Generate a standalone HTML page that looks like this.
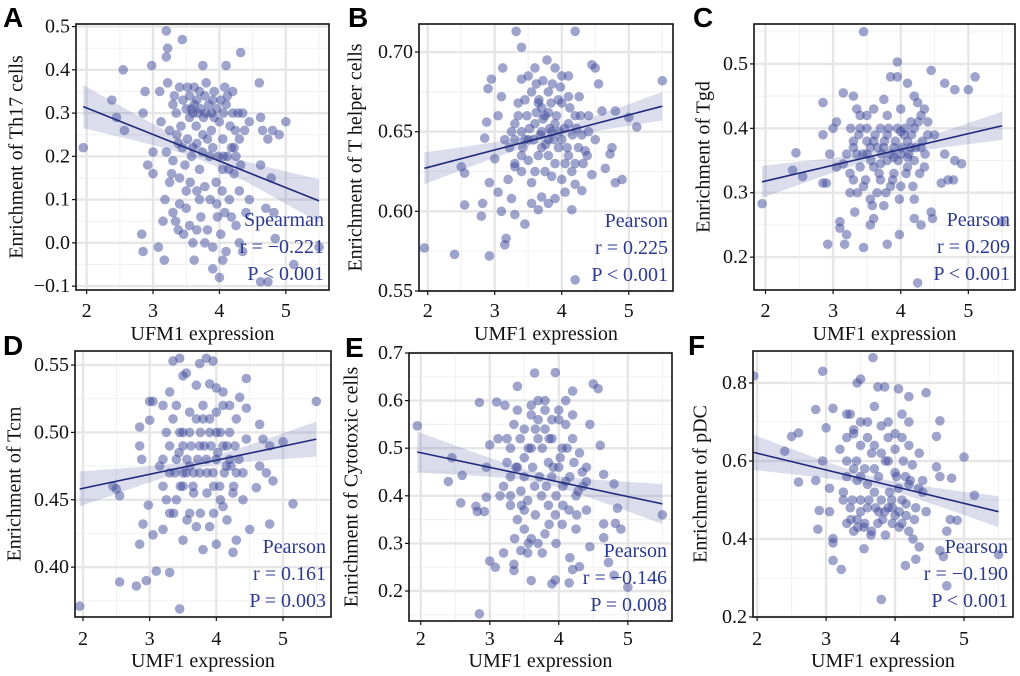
<!DOCTYPE html>
<html><head><meta charset="utf-8"><style>
body{margin:0;background:#fff}
svg{display:block}
text{font-family:"Liberation Serif",serif}
</style></head><body>
<svg id="fig" width="1020" height="676" xmlns="http://www.w3.org/2000/svg"></svg>
<script>
// ---- data arrays ----
const seriesA = [[1.95,0.22],[2.38,0.33],[2.45,0.29],[2.55,0.40],[2.57,0.26],[2.83,0.02],[2.85,-0.02],[2.85,0.30],[2.88,0.35],[2.92,0.18],[2.98,0.41],[3.0,0.16],[3.0,0.21],[3.08,-0.01],[3.1,0.35],[3.17,-0.04],[3.2,0.49],[3.22,0.45],[3.2,0.43],[3.22,0.37],[3.44,0.47],[4.32,0.44],[4.1,0.41],[3.75,0.41],[4.6,0.37],[4.62,0.29],[4.65,0.26],[4.62,0.18],[4.73,0.24],[4.8,0.26],[4.9,0.25],[5.0,0.28],[4.78,0.15],[4.7,0.08],[4.82,0.07],[4.84,0.01],[5.12,-0.05],[5.5,-0.01],[4.62,-0.09],[4.73,-0.09],[3.9,-0.06],[4.0,-0.08],[4.05,-0.04],[3.62,-0.04],[3.38,0.03],[3.15,0.05],[3.18,0.1],[3.25,0.14],[3.3,0.07],[3.4,0.09],[3.5,0.12],[3.55,0.04],[3.6,0.0],[3.72,0.06],[3.82,0.03],[3.9,-0.01],[4.02,0.02],[4.08,0.07],[4.15,0.1],[4.25,0.04],[4.35,-0.02],[4.4,0.07],[4.45,0.1],[4.3,0.12],[4.22,0.16],[4.12,0.2],[4.05,0.24],[3.95,0.14],[3.85,0.2],[3.7,0.17],[3.6,0.22],[3.48,0.18],[3.38,0.23],[3.3,0.19],[3.25,0.26],[3.35,0.3],[3.45,0.33],[3.55,0.29],[3.62,0.32],[3.7,0.35],[3.8,0.3],[3.9,0.33],[4.0,0.28],[4.1,0.32],[4.2,0.35],[4.28,0.3],[4.38,0.26],[4.45,0.28],[3.52,0.36],[3.65,0.27],[3.75,0.25],[3.88,0.26],[4.18,0.22],[4.25,0.2],[3.42,0.27],[3.58,0.31],[3.68,0.30],[3.78,0.34],[3.92,0.29],[3.32,0.34],[4.08,0.36],[4.05,0.17],[3.97,0.06],[3.7,0.1],[3.5,0.08],[3.2,0.21],[3.12,0.28]];
const coreA = [[3.3,0.32],[3.4,0.36],[3.5,0.31],[3.55,0.34],[3.6,0.30],[3.62,0.36],[3.66,0.33],[3.72,0.31],[3.76,0.29],[3.8,0.37],[3.84,0.32],[3.88,0.30],[3.92,0.35],[3.96,0.31],[4.02,0.33],[4.06,0.3],[4.12,0.34],[4.16,0.27],[4.2,0.3],[4.24,0.26],[4.3,0.24],[4.35,0.3],[3.36,0.25],[3.44,0.22],[3.52,0.24],[3.58,0.2],[3.66,0.23],[3.74,0.21],[3.82,0.24],[3.9,0.22],[3.98,0.2],[4.06,0.2],[4.14,0.17],[4.22,0.22],[4.32,0.18],[3.28,0.16],[3.4,0.15],[3.56,0.14],[3.66,0.12],[3.78,0.13],[3.86,0.1],[3.96,0.09],[4.04,0.12],[4.18,0.06],[3.34,0.05],[3.46,0.02],[3.66,0.03],[3.78,0.0],[4.1,-0.02],[4.3,0.0]];
const seriesB = [[1.95,0.577],[2.4,0.573],[2.5,0.628],[2.55,0.624],[2.55,0.604],[2.8,0.597],[2.82,0.605],[2.85,0.646],[2.88,0.656],[2.9,0.677],[2.92,0.572],[2.95,0.683],[2.92,0.618],[3.0,0.633],[3.05,0.612],[3.1,0.600],[3.12,0.690],[3.15,0.579],[3.17,0.583],[3.1,0.672],[3.25,0.608],[3.3,0.598],[3.32,0.713],[3.4,0.703],[3.45,0.592],[3.4,0.683],[3.55,0.605],[3.65,0.601],[3.7,0.609],[3.8,0.605],[3.9,0.608],[4.2,0.713],[4.15,0.601],[4.2,0.557],[4.45,0.692],[4.5,0.690],[4.55,0.680],[4.6,0.663],[4.65,0.627],[4.72,0.636],[4.75,0.640],[4.8,0.663],[4.8,0.618],[4.9,0.620],[5.0,0.659],[5.12,0.653],[5.5,0.682],[4.3,0.613],[4.2,0.617],[4.45,0.623],[3.2,0.620],[3.3,0.628],[3.4,0.635],[3.5,0.645],[3.6,0.655],[3.7,0.665],[3.8,0.675],[3.9,0.69],[4.0,0.685],[4.1,0.672],[4.2,0.66],[4.3,0.648],[4.35,0.638],[3.25,0.65],[3.35,0.66],[3.45,0.67],[3.55,0.675],[3.65,0.668],[3.75,0.66],[3.85,0.65],[3.95,0.64],[4.05,0.63],[4.15,0.625],[3.3,0.645],[3.4,0.65],[3.5,0.632],[3.6,0.625],[3.7,0.64],[3.8,0.635],[3.9,0.655],[4.0,0.645],[4.1,0.655],[4.25,0.64],[4.4,0.65],[3.62,0.68],[3.78,0.695],[3.85,0.622],[4.05,0.612],[3.95,0.67],[4.5,0.645],[3.15,0.645],[3.05,0.66],[3.7,0.65],[3.8,0.645]];
const coreB = [[3.3,0.655],[3.35,0.668],[3.42,0.64],[3.48,0.66],[3.52,0.652],[3.58,0.645],[3.62,0.662],[3.66,0.67],[3.68,0.648],[3.72,0.658],[3.76,0.642],[3.8,0.662],[3.84,0.668],[3.88,0.645],[3.92,0.66],[3.96,0.65],[4.0,0.668],[4.04,0.652],[4.08,0.64],[4.12,0.665],[4.16,0.648],[4.22,0.652],[4.28,0.66],[4.32,0.63],[3.4,0.625],[3.55,0.618],[3.65,0.635],[3.75,0.625],[3.9,0.63],[4.0,0.62],[4.1,0.635],[4.2,0.63],[3.5,0.685],[3.6,0.69],[3.72,0.682],[3.86,0.68],[3.98,0.678],[4.1,0.685],[3.3,0.63],[3.22,0.64],[4.4,0.66],[4.38,0.635],[3.45,0.645],[3.82,0.652],[4.26,0.672]];
const seriesC = [[1.95,0.283],[2.4,0.335],[2.45,0.362],[2.55,0.325],[2.85,0.315],[2.85,0.39],[2.85,0.44],[2.9,0.315],[2.92,0.22],[2.95,0.36],[3.0,0.40],[3.05,0.41],[3.05,0.34],[3.1,0.245],[3.1,0.255],[3.15,0.455],[3.17,0.22],[3.2,0.235],[3.25,0.30],[3.3,0.45],[3.32,0.27],[3.35,0.43],[3.45,0.55],[3.45,0.215],[3.55,0.25],[3.6,0.26],[3.75,0.445],[3.8,0.22],[3.85,0.48],[3.95,0.503],[3.95,0.48],[3.98,0.235],[4.1,0.47],[4.2,0.29],[4.2,0.26],[4.25,0.16],[4.3,0.25],[4.45,0.27],[4.47,0.26],[4.45,0.49],[4.65,0.47],[4.65,0.36],[4.8,0.46],[4.8,0.35],[4.9,0.345],[5.0,0.46],[5.1,0.48],[5.5,0.255],[4.7,0.32],[4.6,0.315],[4.78,0.32],[3.3,0.32],[3.4,0.34],[3.5,0.36],[3.6,0.38],[3.7,0.40],[3.8,0.39],[3.9,0.37],[4.0,0.36],[4.1,0.38],[4.2,0.40],[4.3,0.42],[4.35,0.43],[3.3,0.38],[3.4,0.40],[3.5,0.42],[3.6,0.34],[3.7,0.32],[3.8,0.35],[3.9,0.33],[4.0,0.31],[4.1,0.34],[4.2,0.35],[4.3,0.37],[4.4,0.39],[3.2,0.36],[3.25,0.33],[3.45,0.31],[3.55,0.29],[3.65,0.30],[3.75,0.28],[3.85,0.31],[4.05,0.39],[4.15,0.41],[4.25,0.44],[3.35,0.36],[3.55,0.37],[3.75,0.37],[3.95,0.40],[4.15,0.37],[4.35,0.34],[3.15,0.345],[4.5,0.39]];
const coreC = [[3.3,0.37],[3.38,0.39],[3.44,0.36],[3.5,0.38],[3.56,0.35],[3.62,0.39],[3.66,0.37],[3.72,0.36],[3.76,0.38],[3.82,0.4],[3.86,0.36],[3.92,0.38],[3.96,0.35],[4.02,0.37],[4.06,0.4],[4.12,0.36],[4.16,0.39],[4.22,0.37],[4.26,0.41],[4.32,0.38],[3.4,0.42],[3.6,0.43],[3.8,0.42],[4.0,0.43],[4.2,0.45],[3.48,0.32],[3.68,0.33],[3.88,0.32],[4.08,0.33],[4.28,0.33],[3.36,0.3],[3.58,0.28],[3.78,0.3],[3.98,0.29],[4.18,0.31],[3.26,0.4],[4.4,0.41],[4.36,0.36],[3.7,0.345],[3.9,0.355],[4.1,0.355],[3.5,0.4],[4.0,0.395]];
const seriesD = [[1.95,0.371],[2.45,0.46],[2.5,0.458],[2.55,0.453],[2.55,0.389],[2.8,0.386],[2.85,0.417],[2.85,0.49],[2.85,0.504],[2.88,0.48],[2.9,0.432],[2.95,0.39],[2.98,0.446],[3.0,0.523],[3.0,0.509],[3.05,0.523],[3.1,0.397],[3.05,0.424],[3.2,0.428],[3.2,0.48],[3.3,0.396],[3.35,0.553],[3.45,0.555],[3.5,0.542],[3.55,0.544],[3.45,0.369],[3.5,0.42],[3.75,0.551],[3.85,0.555],[3.95,0.553],[3.9,0.536],[4.0,0.533],[4.45,0.54],[4.35,0.526],[4.45,0.518],[4.65,0.506],[4.65,0.475],[4.7,0.495],[4.75,0.47],[4.8,0.49],[4.85,0.464],[4.8,0.432],[5.0,0.493],[5.15,0.447],[5.5,0.523],[4.6,0.459],[4.5,0.428],[4.25,0.411],[4.3,0.42],[4.0,0.417],[3.8,0.413],[3.2,0.46],[3.3,0.47],[3.4,0.48],[3.5,0.49],[3.6,0.50],[3.7,0.51],[3.8,0.52],[3.9,0.51],[4.0,0.50],[4.1,0.49],[4.2,0.48],[4.3,0.47],[3.25,0.50],[3.35,0.51],[3.45,0.50],[3.55,0.47],[3.65,0.46],[3.75,0.47],[3.85,0.48],[3.95,0.47],[4.05,0.46],[4.15,0.475],[4.25,0.455],[4.4,0.45],[3.3,0.44],[3.4,0.45],[3.5,0.46],[3.6,0.44],[3.7,0.43],[3.9,0.43],[4.1,0.445],[4.2,0.50],[4.3,0.51],[3.6,0.475],[3.75,0.49],[4.0,0.48],[3.15,0.475],[3.2,0.52],[4.1,0.52],[4.45,0.495]];
const coreD = [[3.3,0.49],[3.38,0.47],[3.44,0.485],[3.5,0.5],[3.56,0.48],[3.62,0.49],[3.66,0.47],[3.72,0.48],[3.76,0.5],[3.82,0.49],[3.86,0.47],[3.92,0.49],[3.96,0.46],[4.02,0.485],[4.06,0.5],[4.12,0.47],[4.16,0.49],[4.22,0.475],[4.28,0.49],[4.34,0.48],[3.4,0.52],[3.6,0.515],[3.8,0.51],[4.0,0.515],[4.2,0.52],[3.46,0.46],[3.66,0.455],[3.86,0.455],[4.06,0.45],[4.26,0.46],[3.36,0.44],[3.56,0.435],[3.76,0.44],[3.96,0.44],[4.16,0.435],[3.3,0.53],[3.7,0.535],[4.1,0.53],[3.5,0.47],[3.9,0.5],[4.4,0.47],[3.25,0.45]];
const seriesE = [[1.95,0.547],[2.45,0.48],[2.4,0.43],[2.6,0.443],[2.58,0.385],[2.8,0.378],[2.82,0.367],[2.85,0.596],[2.85,0.152],[2.92,0.367],[2.95,0.46],[2.95,0.397],[3.0,0.507],[3.0,0.263],[3.08,0.25],[3.1,0.597],[3.12,0.52],[3.2,0.28],[3.22,0.59],[3.35,0.256],[3.35,0.243],[3.4,0.63],[3.45,0.285],[3.6,0.222],[3.65,0.658],[3.95,0.659],[3.9,0.215],[3.95,0.223],[4.15,0.217],[4.2,0.62],[4.5,0.635],[4.57,0.625],[4.45,0.55],[4.6,0.506],[4.65,0.445],[4.65,0.341],[4.65,0.312],[4.8,0.425],[4.82,0.342],[4.85,0.374],[4.9,0.33],[4.72,0.26],[4.8,0.233],[5.0,0.208],[5.5,0.36],[4.45,0.293],[4.3,0.251],[4.2,0.245],[3.2,0.42],[3.3,0.44],[3.4,0.46],[3.5,0.48],[3.6,0.50],[3.7,0.52],[3.8,0.54],[3.9,0.56],[4.0,0.58],[4.1,0.55],[4.2,0.52],[4.3,0.49],[4.4,0.46],[3.25,0.52],[3.35,0.55],[3.5,0.54],[3.6,0.57],[3.7,0.60],[3.8,0.58],[3.65,0.42],[3.75,0.40],[3.85,0.38],[3.95,0.36],[4.05,0.34],[4.15,0.37],[4.25,0.40],[4.35,0.42],[3.3,0.38],[3.4,0.35],[3.5,0.33],[3.6,0.31],[3.7,0.30],[3.8,0.32],[3.9,0.44],[4.0,0.46],[4.1,0.43],[3.45,0.41],[3.55,0.39],[3.55,0.28],[3.85,0.47],[4.05,0.50],[4.25,0.33],[3.15,0.40],[4.4,0.37]];
const coreE = [[3.3,0.5],[3.38,0.46],[3.44,0.52],[3.5,0.44],[3.56,0.5],[3.62,0.46],[3.66,0.54],[3.72,0.44],[3.76,0.5],[3.82,0.42],[3.86,0.52],[3.92,0.46],[3.96,0.4],[4.02,0.48],[4.06,0.42],[4.12,0.5],[4.16,0.44],[4.22,0.47],[4.28,0.41],[4.34,0.45],[3.4,0.58],[3.6,0.59],[3.8,0.6],[4.0,0.56],[4.2,0.57],[3.46,0.38],[3.66,0.36],[3.86,0.34],[4.06,0.38],[4.26,0.36],[3.36,0.31],[3.56,0.3],[3.76,0.28],[3.96,0.3],[4.16,0.27],[3.3,0.4],[3.7,0.56],[4.1,0.6],[3.5,0.37],[3.9,0.52],[4.4,0.43],[3.25,0.47]];
const seriesF = [[1.95,0.818],[2.4,0.625],[2.5,0.663],[2.6,0.672],[2.6,0.546],[2.85,0.55],[2.85,0.732],[2.88,0.425],[2.9,0.473],[2.95,0.83],[2.95,0.6],[3.0,0.685],[3.05,0.53],[3.05,0.47],[3.1,0.401],[3.1,0.39],[3.1,0.345],[3.1,0.735],[3.22,0.322],[3.35,0.72],[3.45,0.8],[3.5,0.81],[3.55,0.375],[3.68,0.865],[3.75,0.79],[3.8,0.245],[3.85,0.79],[4.05,0.785],[4.2,0.765],[4.45,0.775],[4.65,0.703],[4.6,0.663],[4.6,0.585],[4.65,0.56],[4.82,0.556],[5.0,0.61],[5.15,0.512],[5.5,0.36],[4.65,0.37],[4.7,0.355],[4.75,0.42],[4.75,0.28],[4.8,0.45],[4.9,0.448],[4.15,0.332],[4.3,0.348],[4.35,0.38],[3.2,0.63],[3.3,0.60],[3.4,0.58],[3.5,0.56],[3.6,0.54],[3.7,0.52],[3.8,0.50],[3.9,0.48],[4.0,0.46],[4.1,0.44],[4.2,0.42],[3.25,0.52],[3.35,0.48],[3.45,0.45],[3.55,0.43],[3.65,0.41],[3.75,0.44],[3.85,0.47],[3.95,0.50],[4.05,0.53],[4.15,0.56],[4.25,0.59],[4.35,0.62],[3.3,0.66],[3.4,0.68],[3.5,0.70],[3.6,0.66],[3.7,0.64],[3.8,0.62],[3.9,0.60],[4.0,0.63],[4.1,0.66],[4.2,0.70],[3.5,0.50],[3.6,0.48],[3.7,0.58],[3.9,0.70],[4.0,0.57],[4.1,0.50],[4.3,0.48],[4.45,0.47],[3.3,0.44],[3.4,0.42],[4.2,0.54],[4.4,0.55],[3.45,0.55]];
const coreF = [[3.3,0.56],[3.38,0.5],[3.44,0.6],[3.5,0.47],[3.56,0.58],[3.62,0.5],[3.66,0.62],[3.72,0.48],[3.76,0.56],[3.82,0.45],[3.86,0.6],[3.92,0.52],[3.96,0.44],[4.02,0.56],[4.06,0.47],[4.12,0.6],[4.16,0.49],[4.22,0.55],[4.28,0.45],[4.34,0.53],[3.4,0.67],[3.6,0.7],[3.8,0.69],[4.0,0.67],[4.2,0.64],[3.46,0.43],[3.66,0.42],[3.86,0.41],[4.06,0.43],[4.26,0.4],[3.36,0.45],[3.56,0.44],[3.76,0.47],[3.96,0.48],[4.16,0.46],[3.3,0.72],[3.7,0.74],[4.1,0.72],[3.5,0.64],[3.9,0.66],[4.4,0.52],[3.25,0.5]];
// regression fit: [y at x=1.95, y at x=5.5]
const fitA=[0.315,0.097], fitB=[0.627,0.666], fitC=[0.317,0.404], fitD=[0.458,0.495], fitE=[0.492,0.383], fitF=[0.622,0.470];
// CI half-widths: [left end, centre, right end]
const ciA=[0.05,0.015,0.05], ciB=[0.010,0.003,0.009], ciC=[0.025,0.006,0.022], ciD=[0.013,0.003,0.013], ciE=[0.043,0.010,0.042], ciF=[0.045,0.012,0.040];
const xTicks=[2,3,4,5];
const yTicksA=[-0.1,0.0,0.1,0.2,0.3,0.4,0.5], yLabA=["\u22120.1","0.0","0.1","0.2","0.3","0.4","0.5"];
const yTicksB=[0.55,0.60,0.65,0.70], yLabB=["0.55","0.60","0.65","0.70"];
const yTicksC=[0.2,0.3,0.4,0.5], yLabC=["0.2","0.3","0.4","0.5"];
const yTicksD=[0.40,0.45,0.50,0.55], yLabD=["0.40","0.45","0.50","0.55"];
const yTicksE=[0.2,0.3,0.4,0.5,0.6,0.7], yLabE=["0.2","0.3","0.4","0.5","0.6","0.7"];
const yTicksF=[0.2,0.4,0.6,0.8], yLabF=["0.2","0.4","0.6","0.8"];
const statsA=["Spearman","r = \u22120.221","P < 0.001"], statsB=["Pearson","r = 0.225","P < 0.001"], statsC=["Pearson","r = 0.209","P < 0.001"];
const statsD=["Pearson","r = 0.161","P = 0.003"], statsE=["Pearson","r = \u22120.146","P = 0.008"], statsF=["Pearson","r = \u22120.190","P < 0.001"];

const panels=[
 {id:'a',L:'A',pts:seriesA.concat(coreA),fit:fitA,ci:ciA,yt:yTicksA,yl:yLabA,st:statsA,x0:76,x1:329,y0:24,y1:290,xd:[1.84,5.65],yd:[-0.109,0.506],xt:'UFM1 expression',yttl:'Enrichment of Th17 cells',ytx:18,lx:3,ly:27,tb:317,ttb:340},
 {id:'b',L:'B',pts:seriesB.concat(coreB),fit:fitB,ci:ciB,yt:yTicksB,yl:yLabB,st:statsB,x0:419,x1:673,y0:24,y1:291,xd:[1.87,5.66],yd:[0.55,0.7176],xt:'UMF1 expression',yttl:'Enrichment of T helper cells',ytx:357,lx:348,ly:27,tb:317,ttb:340},
 {id:'c',L:'C',pts:seriesC.concat(coreC),fit:fitC,ci:ciC,yt:yTicksC,yl:yLabC,st:statsC,x0:754,x1:1015,y0:24,y1:290,xd:[1.83,5.69],yd:[0.149,0.562],xt:'UMF1 expression',yttl:'Enrichment of Tgd',ytx:705,lx:693,ly:27,tb:317,ttb:340},
 {id:'d',L:'D',pts:seriesD.concat(coreD),fit:fitD,ci:ciD,yt:yTicksD,yl:yLabD,st:statsD,x0:75,x1:331,y0:351,y1:617,xd:[1.88,5.72],yd:[0.363,0.5604],xt:'UMF1 expression',yttl:'Enrichment of Tcm',ytx:16,lx:3,ly:355,tb:645,ttb:667},
 {id:'e',L:'E',pts:seriesE.concat(coreE),fit:fitE,ci:ciE,yt:yTicksE,yl:yLabE,st:statsE,x0:409,x1:672,y0:353,y1:621,xd:[1.83,5.64],yd:[0.137,0.7],xt:'UMF1 expression',yttl:'Enrichment of Cytotoxic cells',ytx:353,lx:345,ly:357,tb:645,ttb:667},
 {id:'f',L:'F',pts:seriesF.concat(coreF),fit:fitF,ci:ciF,yt:yTicksF,yl:yLabF,st:statsF,x0:753,x1:1013,y0:351,y1:617,xd:[1.94,5.71],yd:[0.2,0.882],xt:'UMF1 expression',yttl:'Enrichment of pDC',ytx:702,lx:688,ly:355,tb:645,ttb:667}
];

const NS='http://www.w3.org/2000/svg';
const svg=document.getElementById('fig');
function mk(tag,attrs,parent){const e=document.createElementNS(NS,tag);for(const k in attrs)e.setAttribute(k,attrs[k]);parent.appendChild(e);return e;}

panels.forEach(p=>{
 const g=mk('g',{},svg);
 
 
 const sx=v=>p.x0+(v-p.xd[0])/(p.xd[1]-p.xd[0])*(p.x1-p.x0);
 const sy=v=>p.y1-(v-p.yd[0])/(p.yd[1]-p.yd[0])*(p.y1-p.y0);
 const cp=mk('clipPath',{id:'clip'+p.id},g);
 mk('rect',{x:p.x0,y:p.y0,width:p.x1-p.x0,height:p.y1-p.y0},cp);
 const grid=mk('g',{},g);
 
 
 [1.5,2.5,3.5,4.5,5.5].forEach(v=>{const X=sx(v);if(X>p.x0&&X<p.x1)mk('line',{x1:X,x2:X,y1:p.y0,y2:p.y1,stroke:'#f2f2f2','stroke-width':1.2},grid);});
 const st=p.yt[1]-p.yt[0];
 for(let i=-1;i<p.yt.length;i++){const v=p.yt[0]+st*(i+0.5);const Y=sy(v);if(Y>p.y0&&Y<p.y1)mk('line',{x1:p.x0,x2:p.x1,y1:Y,y2:Y,stroke:'#f2f2f2','stroke-width':1.2},grid);}
 xTicks.forEach(v=>{const X=sx(v);mk('line',{x1:X,x2:X,y1:p.y0,y2:p.y1,stroke:'#e6e6e6','stroke-width':2.4},grid);});
 p.yt.forEach(v=>{const Y=sy(v);mk('line',{x1:p.x0,x2:p.x1,y1:Y,y2:Y,stroke:'#e6e6e6','stroke-width':2.4},grid);});
 const plot=mk('g',{'clip-path':'url(#clip'+p.id+')'},g);
 p.pts.forEach((d,i)=>{
  const c=mk('circle',{cx:sx(d[0]),cy:sy(d[1]),r:4.8,fill:'#3d4a9a','fill-opacity':0.5},plot);
  
  
 });
 const xa=1.95,xb=5.5,xm=(xa+xb)/2;
 const top=[],bot=[];
 for(let k=0;k<=40;k++){
  const x=xa+(xb-xa)*k/40;
  const yc=p.fit[0]+(p.fit[1]-p.fit[0])*(x-xa)/(xb-xa);
  const end=x<xm?p.ci[0]:p.ci[2];
  const t=(x-xm)/(xb-xm);
  const hw=Math.sqrt(p.ci[1]*p.ci[1]+(end*end-p.ci[1]*p.ci[1])*t*t);
  top.push(sx(x).toFixed(1)+','+sy(yc+hw).toFixed(1));
  bot.unshift(sx(x).toFixed(1)+','+sy(yc-hw).toFixed(1));
 }
 const rib=mk('polygon',{points:top.concat(bot).join(' '),fill:'#5a66a8','fill-opacity':0.22},plot);
 
 
 const ln=mk('line',{x1:sx(xa),y1:sy(p.fit[0]),x2:sx(xb),y2:sy(p.fit[1]),stroke:'#1f2a7c','stroke-width':1.6},plot);
 
 
 const bd=mk('rect',{x:p.x0,y:p.y0,width:p.x1-p.x0,height:p.y1-p.y0,fill:'none',stroke:'#111','stroke-width':1.6},g);
 
 
 xTicks.forEach(v=>{const X=sx(v);mk('line',{x1:X,x2:X,y1:p.y1,y2:p.y1+4,stroke:'#111','stroke-width':1.2},g);
  const t=mk('text',{x:X,y:p.tb,'text-anchor':'middle','font-size':20,fill:'#111'},g);t.textContent=v;
  
  });
 p.yt.forEach((v,i)=>{const Y=sy(v);mk('line',{x1:p.x0-4,x2:p.x0,y1:Y,y2:Y,stroke:'#111','stroke-width':1.2},g);
  const t=mk('text',{x:p.x0-6,y:Y+6,'text-anchor':'end','font-size':20,fill:'#111'},g);t.textContent=p.yl[i];
  
  });
 const xt=mk('text',{x:(p.x0+p.x1)/2,y:p.ttb,'text-anchor':'middle','font-size':20,fill:'#111'},g);xt.textContent=p.xt;
 
 
 const yc=(p.y0+p.y1)/2;
 const yt=mk('text',{x:p.ytx,y:yc,'text-anchor':'middle','font-size':20,fill:'#111',transform:'rotate(-90 '+p.ytx+' '+yc+')','dominant-baseline':'middle'},g);yt.textContent=p.yttl;
 
 
 p.st.forEach((s,i)=>{const t=mk('text',{x:p.x1-5,y:p.y1-64+i*27,'text-anchor':'end','font-size':20,fill:'#2b3990'},g);t.textContent=s;
  
  });
 const lt=mk('text',{x:p.lx,y:p.ly,'font-size':28,'font-weight':'bold',fill:'#000',style:'font-family:"Liberation Sans",sans-serif'},g);lt.textContent=p.L;
 
 
});
</script>
</body></html>
